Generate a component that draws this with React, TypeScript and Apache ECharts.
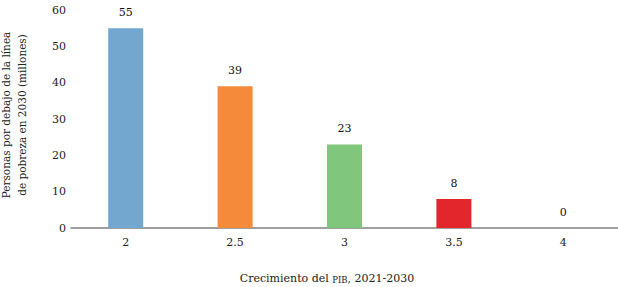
import React, { useEffect, useRef } from "react";
import * as echarts from "echarts";

const categories = ["2", "2.5", "3", "3.5", "4"];
const values = [55, 39, 23, 8, 0];
const barColors = ["#74a7d0", "#f58b3a", "#80c67c", "#e3262b", "#999999"];
const yTicks = { min: 0, max: 60, interval: 10 };
const yTitleLines = ["Personas por debajo de la línea", "de pobreza en 2030 (millones)"];

const FONT = "DejaVu Serif";

export default function App() {
  const ref = useRef<HTMLDivElement>(null);
  useEffect(() => {
    if (!ref.current) return;
    const chart = echarts.init(ref.current, undefined, { renderer: "svg" });
    chart.setOption({
      animation: false,
      textStyle: { fontFamily: FONT },
      grid: { left: 71, right: -1, top: 10, bottom: 59 },
      xAxis: {
        type: "category",
        data: categories,
        axisLine: { lineStyle: { color: "#808080", width: 1.5 } },
        axisTick: { show: false },
        axisLabel: { color: "#222", fontSize: 11, fontFamily: FONT, margin: 9 },
      },
      yAxis: {
        type: "value",
        min: yTicks.min,
        max: yTicks.max,
        interval: yTicks.interval,
        axisLine: { show: false },
        axisTick: { show: false },
        splitLine: { show: false },
        axisLabel: { color: "#222", fontSize: 11, fontFamily: FONT, margin: 5 },
      },
      series: [
        {
          type: "bar",
          barWidth: 35,
          data: values.map((v, i) => ({ value: v, itemStyle: { color: barColors[i] } })),
          label: {
            show: true,
            position: "top",
            distance: 10,
            color: "#111",
            fontSize: 11,
            fontFamily: FONT,
          },
        },
      ],
      graphic: [
        {
          type: "text",
          x: 14,
          y: 115,
          rotation: Math.PI / 2,
          style: {
            text: yTitleLines.join("\n"),
            fontFamily: FONT,
            fontSize: 10.5,
            fill: "#222",
            align: "center",
            verticalAlign: "middle",
            lineHeight: 16,
          },
        },
        {
          type: "text",
          x: 327,
          y: 277,
          style: {
            rich: {
              a: { fontSize: 11, fontFamily: FONT, fill: "#222", lineHeight: 14, verticalAlign: "bottom" },
              s: { fontSize: 8.5, fontFamily: FONT, fill: "#222", lineHeight: 12, verticalAlign: "bottom" },
            },
            text: "{a|Crecimiento del }{s|PIB}{a|, 2021-2030}",
            fontFamily: FONT,
            align: "center",
            verticalAlign: "middle",
          },
        },
      ],
    });
    return () => chart.dispose();
  }, []);
  return (
    <div
      ref={ref}
      style={{ position: "absolute", left: 0, top: 0, width: 618, height: 287 }}
    />
  );
}
